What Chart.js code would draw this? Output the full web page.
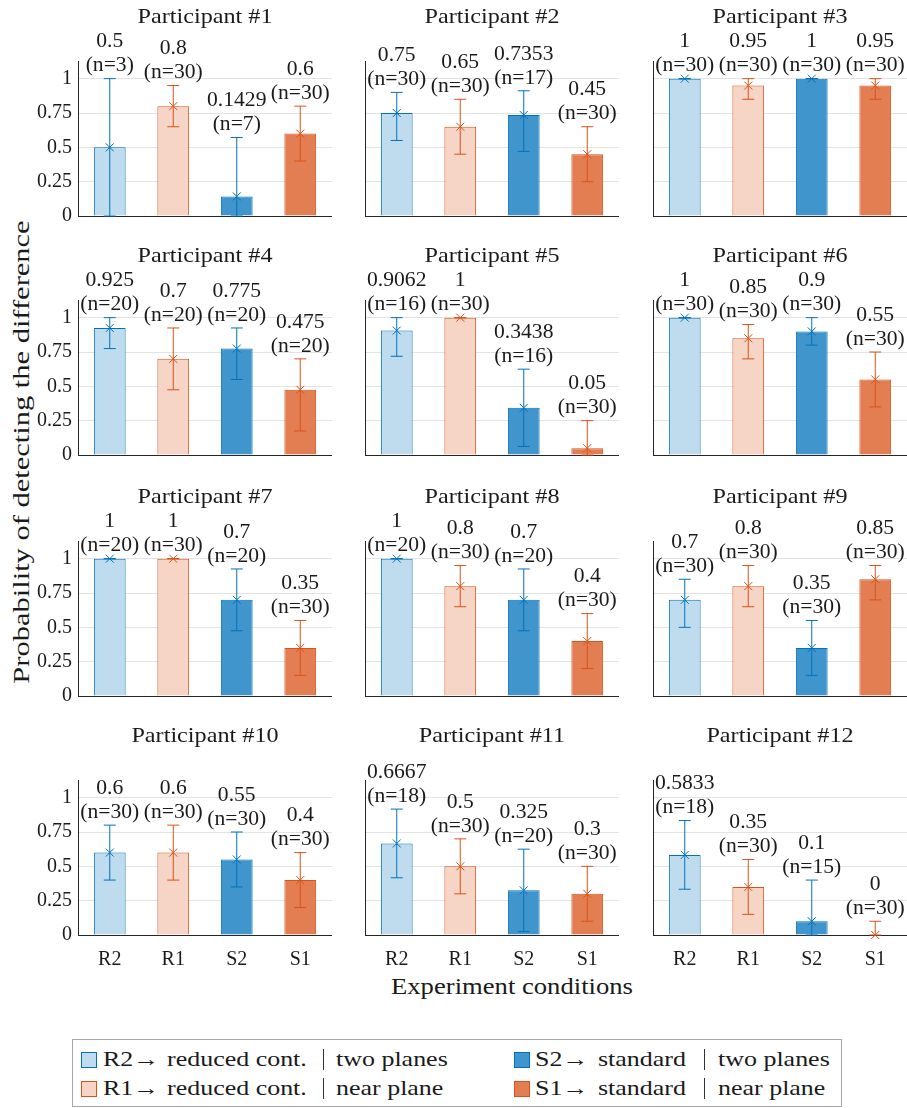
<!DOCTYPE html>
<html>
<head>
<meta charset="utf-8">
<script src="https://cdn.jsdelivr.net/npm/chart.js@4.4.1/dist/chart.umd.min.js"></script>
<style>
  html, body { margin:0; padding:0; background:#fff; }
  body { width:907px; height:1108px; position:relative; overflow:hidden;
         font-family:'Liberation Serif','DejaVu Serif',serif; color:#1a1a1a; }
  .panel { position:absolute; }
  .ylab { position:absolute; left:21px; top:452px; transform:translate(-50%,-50%) rotate(-90deg) scaleX(1.27);
          white-space:nowrap; font-size:24px; line-height:24px; }
  .xlab { position:absolute; left:512px; top:986px; transform:translate(-50%,-50%) scaleX(1.11);
          white-space:nowrap; font-size:24px; line-height:24px; }
  .legend { position:absolute; left:72px; top:1039px; width:768px; height:66px;
            border:1px solid #a6a6a6; background:#fff; }
  .lp { position:absolute; white-space:nowrap; font-size:22px; line-height:22px;
        transform-origin:left center; transform:scaleX(1.18); }
  .sw { position:absolute; width:16px; height:16px; box-sizing:border-box; border:1.5px solid; }
  .vb { position:absolute; width:0; height:21px; border-left:1.2px solid #333; }
</style>
</head>
<body>
<div class="ylab">Probability of detecting the difference</div>
<div class="xlab">Experiment conditions</div>
<div class="legend"></div>
<script>
// ---------------- data ----------------
const conditions = ['R2', 'R1', 'S2', 'S1'];
const participants = ['Participant #1','Participant #2','Participant #3','Participant #4',
  'Participant #5','Participant #6','Participant #7','Participant #8','Participant #9',
  'Participant #10','Participant #11','Participant #12'];

const probR2 = [0.5, 0.75, 1, 0.925, 0.9062, 1, 1, 1, 0.7, 0.6, 0.6667, 0.5833];
const probR1 = [0.8, 0.65, 0.95, 0.7, 1, 0.85, 1, 0.8, 0.8, 0.6, 0.5, 0.35];
const probS2 = [0.1429, 0.7353, 1, 0.775, 0.3438, 0.9, 0.7, 0.7, 0.35, 0.55, 0.325, 0.1];
const probS1 = [0.6, 0.45, 0.95, 0.475, 0.05, 0.55, 0.35, 0.4, 0.85, 0.4, 0.3, 0];

const nR2 = [3, 30, 30, 20, 16, 30, 20, 20, 30, 30, 18, 18];
const nR1 = [30, 30, 30, 20, 30, 30, 30, 30, 30, 30, 30, 30];
const nS2 = [7, 17, 30, 20, 16, 30, 20, 20, 30, 30, 20, 15];
const nS1 = [30, 30, 30, 20, 30, 30, 30, 30, 30, 30, 30, 30];

const lowR2  = [0, 0.55, 1, 0.775, 0.7188, 1, 1, 1, 0.5, 0.4, 0.4167, 0.3333];
const highR2 = [1, 0.9, 1, 1, 1, 1, 1, 1, 0.85, 0.8, 0.9167, 0.8333];
const lowR1  = [0.65, 0.45, 0.85, 0.475, 1, 0.7, 1, 0.65, 0.65, 0.4, 0.3, 0.15];
const highR1 = [0.95, 0.85, 1, 0.925, 1, 0.95, 1, 0.95, 0.95, 0.8, 0.7, 0.55];
const lowS2  = [0, 0.4706, 1, 0.55, 0.0625, 0.8, 0.475, 0.475, 0.15, 0.35, 0.025, 0];
const highS2 = [0.5714, 0.9118, 1, 0.925, 0.625, 1, 0.925, 0.925, 0.55, 0.75, 0.625, 0.4];
const lowS1  = [0.4, 0.25, 0.85, 0.175, 0, 0.35, 0.15, 0.2, 0.7, 0.2, 0.1, 0];
const highS1 = [0.8, 0.65, 1, 0.7, 0.25, 0.75, 0.55, 0.6, 0.95, 0.6, 0.5, 0.1];

const yTicks = [0, 0.25, 0.5, 0.75, 1];

const legendKeys  = ['R2\u2192', 'R1\u2192', 'S2\u2192', 'S1\u2192'];
const legendDesc1 = ['reduced cont.', 'reduced cont.', 'standard', 'standard'];
const legendDesc2 = ['two planes', 'near plane', 'two planes', 'near plane'];

// ---------------- styles ----------------
const BLUE = '#0072bd', ORANGE = '#d95319';
const fills = ['#bfdcee', '#f6d4c6', '#4095cd', '#e37e53'];
const edges = [BLUE, ORANGE, BLUE, ORANGE];
const FONT = "'Liberation Serif', 'DejaVu Serif', serif";
const TXT = '#1a1a1a';
const AXC = '#262626';

Chart.defaults.font.family = FONT;
Chart.defaults.color = TXT;

const colLeft = [0, 287, 575];
const rowTop = [0, 239, 480, 719];
const PW = 332;

function stretchText(ctx, txt, x, y, sx) {
  ctx.save();
  ctx.translate(x, y);
  ctx.scale(sx, 1);
  ctx.fillText(txt, 0, 0);
  ctx.restore();
}

const annot = {
  id: 'annot',
  afterDatasetsDraw(chart, args, opts) {
    const ctx = chart.ctx;
    const meta = chart.getDatasetMeta(0);
    const ys = chart.scales.y;
    const p = opts.p;
    const vals = [probR2[p], probR1[p], probS2[p], probS1[p]];
    const ns = [nR2[p], nR1[p], nS2[p], nS1[p]];
    const lo = [lowR2[p], lowR1[p], lowS2[p], lowS1[p]];
    const hi = [highR2[p], highR1[p], highS2[p], highS1[p]];
    ctx.save();
    for (let i = 0; i < 4; i++) {
      const x = meta.data[i].x;
      const yv = ys.getPixelForValue(vals[i]);
      const yl = ys.getPixelForValue(lo[i]);
      const yh = ys.getPixelForValue(hi[i]);
      ctx.strokeStyle = edges[i];
      ctx.lineWidth = 1;
      ctx.beginPath();
      ctx.moveTo(x, yh); ctx.lineTo(x, yl);
      ctx.moveTo(x - 6, yh); ctx.lineTo(x + 6, yh);
      ctx.moveTo(x - 6, yl); ctx.lineTo(x + 6, yl);
      ctx.moveTo(x - 4, yv - 4); ctx.lineTo(x + 4, yv + 4);
      ctx.moveTo(x - 4, yv + 4); ctx.lineTo(x + 4, yv - 4);
      ctx.stroke();
      ctx.fillStyle = TXT;
      ctx.font = '20px ' + FONT;
      ctx.textAlign = 'center';
      ctx.textBaseline = 'middle';
      stretchText(ctx, '(n=' + ns[i] + ')', x, yh - 12.5, 1.08);
      stretchText(ctx, String(vals[i]), x, yh - 36.5, 1.08);
    }
    ctx.restore();
  },
  afterDraw(chart, args, opts) {
    const ctx = chart.ctx;
    const a = chart.chartArea;
    ctx.save();
    ctx.fillStyle = TXT;
    ctx.font = '22px ' + FONT;
    ctx.textAlign = 'center';
    ctx.textBaseline = 'middle';
    stretchText(ctx, participants[opts.p], (a.left + a.right) / 2, a.bottom - 199, 1.1);
    ctx.restore();
  }
};

for (let p = 0; p < 12; p++) {
  const col = p % 3, row = Math.floor(p / 3);
  const H = row === 3 ? 256 : 246;
  const div = document.createElement('div');
  div.className = 'panel';
  div.style.left = colLeft[col] + 'px';
  div.style.top = rowTop[row] + 'px';
  div.style.width = PW + 'px';
  div.style.height = H + 'px';
  const cv = document.createElement('canvas');
  cv.width = PW; cv.height = H;
  cv.style.width = PW + 'px'; cv.style.height = H + 'px';
  div.appendChild(cv);
  document.body.appendChild(div);

  new Chart(cv, {
    type: 'bar',
    data: {
      labels: conditions,
      datasets: [{
        data: [probR2[p], probR1[p], probS2[p], probS1[p]],
        backgroundColor: fills,
        borderColor: edges,
        borderWidth: 1,
        borderSkipped: 'bottom',
        barPercentage: 0.5,
        categoryPercentage: 1
      }]
    },
    options: {
      responsive: false,
      animation: false,
      devicePixelRatio: 1,
      layout: { padding: { top: 61.5, left: 0, right: 0, bottom: 0 } },
      plugins: { legend: { display: false }, tooltip: { enabled: false }, annot: { p: p } },
      scales: {
        x: {
          type: 'category',
          offset: true,
          grid: { display: false },
          border: { display: true, color: AXC, width: 1 },
          ticks: { display: row === 3, font: { size: 20 }, color: TXT, padding: 5, maxRotation: 0 },
          afterFit(s) { s.height = H - 216; }
        },
        y: {
          min: 0, max: 1.125,
          afterBuildTicks(s) { s.ticks = yTicks.map(v => ({ value: v })); },
          afterFit(s) { s.width = 78; },
          grid: { color: '#e3e3e3', lineWidth: 1, drawTicks: false },
          border: { display: true, color: AXC, width: 1 },
          ticks: { display: col === 0, font: { size: 20 }, color: TXT, padding: 6,
                   callback: v => String(v) }
        }
      }
    },
    plugins: [annot]
  });
}

// ---------------- legend ----------------
const rowC = [1060, 1089];
const colX = [
  { sw: 81,  key: 103, d1: 167, bar: 323, d2: 336 },
  { sw: 514, key: 535, d1: 598, bar: 704, d2: 718 }
];
function addEl(cls, left, top, txt) {
  const e = document.createElement('div');
  e.className = cls;
  e.style.left = left + 'px';
  e.style.top = top + 'px';
  if (txt !== undefined) e.textContent = txt;
  document.body.appendChild(e);
  return e;
}
for (let i = 0; i < 4; i++) {
  const c = colX[i < 2 ? 0 : 1];
  const yc = rowC[i % 2];
  const sw = addEl('sw', c.sw, yc - 8);
  sw.style.background = fills[i];
  sw.style.borderColor = edges[i];
  addEl('lp', c.key, yc - 12, legendKeys[i]);
  addEl('lp', c.d1, yc - 12, legendDesc1[i]);
  addEl('vb', c.bar, yc - 11);
  addEl('lp', c.d2, yc - 12, legendDesc2[i]);
}
</script>
</body>
</html>
